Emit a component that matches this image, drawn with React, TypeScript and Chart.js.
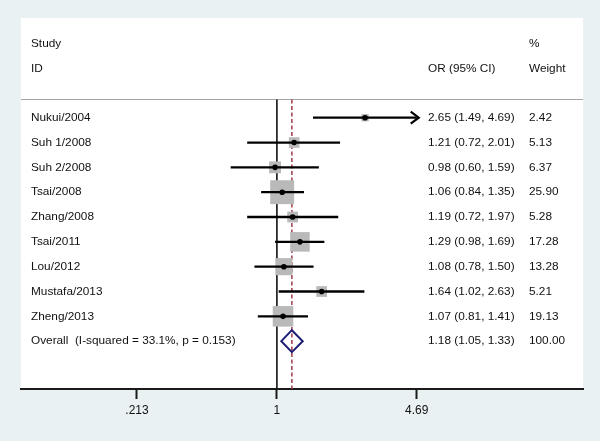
import React, { useEffect, useRef } from 'react';
import { Chart, registerables } from 'chart.js';

Chart.register(...registerables);

// ---- data ----
const studies = ['Nukui/2004', 'Suh 1/2008', 'Suh 2/2008', 'Tsai/2008', 'Zhang/2008', 'Tsai/2011', 'Lou/2012', 'Mustafa/2013', 'Zheng/2013'];
const orValues = [2.65, 1.21, 0.98, 1.06, 1.19, 1.29, 1.08, 1.64, 1.07];
const ciLow = [1.49, 0.72, 0.60, 0.84, 0.72, 0.98, 0.78, 1.02, 0.81];
const ciHigh = [4.69, 2.01, 1.59, 1.35, 1.97, 1.69, 1.50, 2.63, 1.41];
const weights = [2.42, 5.13, 6.37, 25.90, 5.28, 17.28, 13.28, 5.21, 19.13];

const overallLabel = 'Overall  (I-squared = 33.1%, p = 0.153)';
const overallOR = 1.18;
const overallLow = 1.05;
const overallHigh = 1.33;
const overallWeight = 100.0;

const xTickValues = [0.213, 1, 4.69];
const xTickLabels = ['.213', '1', '4.69'];
const xRange = [0.0591, 29.5];

const headerLine1 = ['Study', '%'];
const headerLine2 = ['ID', 'OR (95% CI)', 'Weight'];

// ---- layout / style constants ----
const BG = '#eaf1f3';
const FONT = '11.8px "Liberation Sans", Arial, Helvetica, sans-serif';
const TEXT = '#111111';
const COL_LABEL = 31;
const COL_CI = 428;
const COL_W = 529;
const ROW_HEAD1 = -2.98;
const ROW_HEAD2 = -1.97;
const ROW_SEP = -0.765;
const Y_MIN = -4.015;
const Y_MAX = 10.926;

const forestPlugin = {
  id: 'forest',
  beforeDraw(chart: any) {
    const { ctx, chartArea: a, width, height } = chart;
    ctx.save();
    ctx.fillStyle = BG;
    ctx.fillRect(0, 0, width, height);
    ctx.fillStyle = '#ffffff';
    ctx.fillRect(a.left, a.top, a.right - a.left, a.bottom - a.top);
    ctx.restore();
  },
  beforeDatasetsDraw(chart: any) {
    const { ctx, chartArea: a, scales } = chart;
    const x = scales.x;
    const y = scales.y;
    const ySep = Math.round(y.getPixelForValue(ROW_SEP)) + 0.5;
    ctx.save();
    // separator
    ctx.strokeStyle = '#a3a3a3';
    ctx.lineWidth = 1;
    ctx.beginPath();
    ctx.moveTo(a.left, ySep);
    ctx.lineTo(a.right, ySep);
    ctx.stroke();
    // null line
    const x1 = x.getPixelForValue(1);
    ctx.strokeStyle = '#111111';
    ctx.lineWidth = 1.6;
    ctx.beginPath();
    ctx.moveTo(x1, ySep);
    ctx.lineTo(x1, a.bottom);
    ctx.stroke();
    // overall dashed line
    const xo = x.getPixelForValue(overallOR);
    ctx.strokeStyle = '#9e3a48';
    ctx.lineWidth = 1.5;
    ctx.setLineDash([4, 2.5]);
    ctx.beginPath();
    ctx.moveTo(xo, ySep);
    ctx.lineTo(xo, a.bottom);
    ctx.stroke();
    ctx.restore();
  },
  afterDatasetsDraw(chart: any) {
    const { ctx, scales } = chart;
    const x = scales.x;
    const y = scales.y;
    ctx.save();
    // arrows for truncated CIs
    const xMaxTick = xTickValues[xTickValues.length - 1];
    ciHigh.forEach((h, i) => {
      if (h >= xMaxTick) {
        const px = x.getPixelForValue(h) + 2;
        const py = y.getPixelForValue(i);
        ctx.strokeStyle = '#000';
        ctx.lineWidth = 2.2;
        ctx.beginPath();
        ctx.moveTo(px - 8, py - 6);
        ctx.lineTo(px, py);
        ctx.lineTo(px - 8, py + 6);
        ctx.stroke();
      }
    });
    // overall diamond
    const py = y.getPixelForValue(studies.length);
    const xl = x.getPixelForValue(overallLow);
    const xm = x.getPixelForValue(overallOR);
    const xr = x.getPixelForValue(overallHigh);
    ctx.strokeStyle = '#1c1c72';
    ctx.lineWidth = 2;
    ctx.lineJoin = 'miter';
    ctx.beginPath();
    ctx.moveTo(xl, py);
    ctx.lineTo(xm, py - 11);
    ctx.lineTo(xr, py);
    ctx.lineTo(xm, py + 11);
    ctx.closePath();
    ctx.stroke();
    ctx.restore();
  },
  afterDraw(chart: any) {
    const { ctx, scales } = chart;
    const y = scales.y;
    ctx.save();
    ctx.font = FONT;
    ctx.fillStyle = TEXT;
    ctx.textBaseline = 'middle';
    ctx.textAlign = 'left';
    const h1 = y.getPixelForValue(ROW_HEAD1);
    const h2 = y.getPixelForValue(ROW_HEAD2);
    ctx.fillText(headerLine1[0], COL_LABEL, h1);
    ctx.fillText(headerLine1[1], COL_W, h1);
    ctx.fillText(headerLine2[0], COL_LABEL, h2);
    ctx.fillText(headerLine2[1], COL_CI, h2);
    ctx.fillText(headerLine2[2], COL_W, h2);
    studies.forEach((s, i) => {
      const py = y.getPixelForValue(i);
      ctx.fillText(s, COL_LABEL, py);
      ctx.fillText(`${orValues[i].toFixed(2)} (${ciLow[i].toFixed(2)}, ${ciHigh[i].toFixed(2)})`, COL_CI, py);
      ctx.fillText(weights[i].toFixed(2), COL_W, py);
    });
    const po = y.getPixelForValue(studies.length);
    ctx.fillText(overallLabel, COL_LABEL, po);
    ctx.fillText(`${overallOR.toFixed(2)} (${overallLow.toFixed(2)}, ${overallHigh.toFixed(2)})`, COL_CI, po);
    ctx.fillText(overallWeight.toFixed(2), COL_W, po);
    ctx.restore();
  },
};

export default function App() {
  const ref = useRef<HTMLCanvasElement>(null);

  useEffect(() => {
    const canvas = ref.current;
    if (!canvas) return;
    const datasets: any[] = [];
    // point estimates (top)
    datasets.push({
      type: 'scatter',
      data: studies.map((_, i) => ({ x: orValues[i], y: i })),
      pointStyle: 'circle',
      pointRadius: 2.8,
      backgroundColor: '#000',
      borderColor: '#000',
      borderWidth: 0,
      order: 1,
    });
    // CI lines
    studies.forEach((_, i) => {
      datasets.push({
        type: 'line',
        data: [
          { x: ciLow[i], y: i },
          { x: ciHigh[i], y: i },
        ],
        borderColor: '#000',
        borderWidth: 2.3,
        pointRadius: 0,
        fill: false,
        order: 2,
      });
    });
    // weight boxes (bottom)
    datasets.push({
      type: 'scatter',
      data: studies.map((_, i) => ({ x: orValues[i], y: i })),
      pointStyle: 'rect',
      pointRadius: weights.map((w) => (4.7 * Math.sqrt(w)) / Math.SQRT2),
      backgroundColor: '#b9b9b9',
      borderWidth: 0,
      order: 3,
    });

    const chart = new Chart(canvas, {
      type: 'scatter',
      data: { datasets },
      plugins: [forestPlugin],
      options: {
        animation: false,
        responsive: false,
        devicePixelRatio: 1,
        layout: { padding: { left: 21, right: 16, top: 18, bottom: 0 } },
        plugins: { legend: { display: false }, tooltip: { enabled: false } },
        events: [],
        scales: {
          x: {
            type: 'logarithmic',
            min: xRange[0],
            max: xRange[1],
            bounds: 'data',
            afterBuildTicks: (scale: any) => {
              scale.ticks = xTickValues.map((v) => ({ value: v }));
            },
            afterFit: (scale: any) => {
              scale.height = 52;
            },
            ticks: {
              callback: (_v: any, i: number) => xTickLabels[i],
              font: { family: '"Liberation Sans", Arial, sans-serif', size: 12 },
              color: TEXT,
              padding: 4,
              maxRotation: 0,
              autoSkip: false,
            },
            grid: {
              drawOnChartArea: false,
              drawTicks: true,
              tickLength: 10,
              tickWidth: 2,
              tickColor: '#1a1a1a',
            },
            border: { display: true, color: '#1a1a1a', width: 2 },
          },
          y: {
            type: 'linear',
            min: Y_MIN,
            max: Y_MAX,
            reverse: true,
            display: false,
          },
        },
      } as any,
    });
    return () => chart.destroy();
  }, []);

  return (
    <div style={{ position: 'fixed', left: 0, top: 0, width: 600, height: 441 }}>
      <canvas ref={ref} width={600} height={441} style={{ display: 'block' }} />
    </div>
  );
}
